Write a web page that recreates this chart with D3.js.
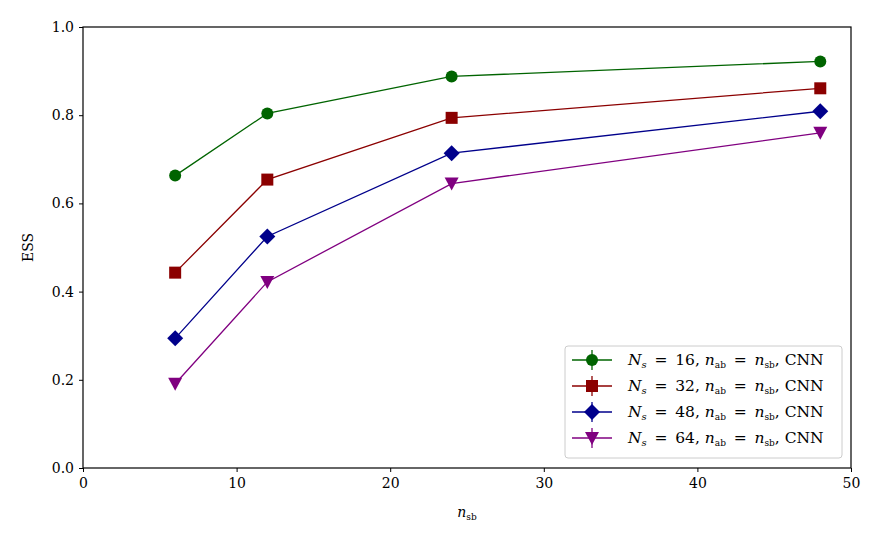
<!DOCTYPE html>
<html>
<head>
<meta charset="utf-8">
<script src="https://cdn.jsdelivr.net/npm/d3@7"></script>
<style>
  body { margin: 0; background: white; }
  text { font-family: "DejaVu Serif", "Liberation Serif", serif; }
</style>
</head>
<body>
<script>
const width = 882;
const height = 545;
const margin = {top: 27, right: 31, bottom: 77, left: 83};

// datos
const nsb = [6, 12, 24, 48];
const seriesNs = [16, 32, 48, 64];
const ess16 = [0.663, 0.804, 0.888, 0.922];
const ess32 = [0.443, 0.654, 0.794, 0.861];
const ess48 = [0.294, 0.525, 0.714, 0.809];
const ess64 = [0.191, 0.422, 0.645, 0.760];
const xTicks = [0, 10, 20, 30, 40, 50];
const yTicks = [0, 0.2, 0.4, 0.6, 0.8, 1.0];

const colors = ["#006400", "#8b0000", "#00008b", "#800080"];
const symbols = ["circle", "square", "diamond", "triangle"];

const series = seriesNs.map((ns, i) => ({
  ns,
  values: [ess16, ess32, ess48, ess64][i],
  color: colors[i],
  symbol: symbols[i]
}));

const svg = d3.select("body")
  .append("svg")
  .attr("width", width)
  .attr("height", height);

const x = d3.scaleLinear().domain([0, 50]).range([margin.left, width - margin.right]);
const y = d3.scaleLinear().domain([0, 1]).range([height - margin.bottom, margin.top]);

// ejes
const xAxis = svg.append("g")
  .attr("transform", `translate(0, ${height - margin.bottom})`)
  .call(d3.axisBottom(x).tickValues(xTicks).tickSize(4).tickPadding(6).tickFormat(d3.format("d")));

const yAxis = svg.append("g")
  .attr("transform", `translate(${margin.left}, 0)`)
  .call(d3.axisLeft(y).tickValues(yTicks).tickSize(4).tickPadding(5).tickFormat(d3.format(".1f")));

[xAxis, yAxis].forEach(a => {
  a.select(".domain").remove();
  a.selectAll("line").attr("stroke", "#000").attr("stroke-width", 1);
  a.selectAll("text").style("font-size", "14px").attr("fill", "#000");
});

// marco
svg.append("rect")
  .attr("x", margin.left)
  .attr("y", margin.top)
  .attr("width", width - margin.left - margin.right)
  .attr("height", height - margin.top - margin.bottom)
  .attr("fill", "none")
  .attr("stroke", "#000")
  .attr("stroke-width", 1.2);

// dibujar marcador
function marker(g, type, color, cx, cy) {
  if (type === "circle") {
    g.append("circle").attr("cx", cx).attr("cy", cy).attr("r", 6).attr("fill", color);
  } else if (type === "square") {
    g.append("rect").attr("x", cx - 6).attr("y", cy - 6).attr("width", 12).attr("height", 12).attr("fill", color);
  } else if (type === "diamond") {
    g.append("path").attr("d", `M${cx},${cy - 8}L${cx + 8},${cy}L${cx},${cy + 8}L${cx - 8},${cy}Z`).attr("fill", color);
  } else {
    g.append("path").attr("d", `M${cx - 7},${cy - 6}L${cx + 7},${cy - 6}L${cx},${cy + 7}Z`).attr("fill", color);
  }
}

const line = d3.line()
  .x((d, i) => x(nsb[i]))
  .y(d => y(d));

series.forEach(s => {
  const g = svg.append("g");
  g.append("path")
    .attr("d", line(s.values))
    .attr("fill", "none")
    .attr("stroke", s.color)
    .attr("stroke-width", 1.3);
  s.values.forEach((v, i) => marker(g, s.symbol, s.color, x(nsb[i]), y(v)));
});

// etiquetas de ejes
svg.append("text")
  .attr("transform", `translate(33, ${(margin.top + height - margin.bottom) / 2}) rotate(-90)`)
  .attr("text-anchor", "middle")
  .style("font-size", "14px")
  .text("ESS");

const xl = svg.append("text")
  .attr("x", (margin.left + width - margin.right) / 2)
  .attr("y", 517)
  .attr("text-anchor", "middle")
  .style("font-size", "14px");
xl.append("tspan").style("font-style", "italic").text("n");
xl.append("tspan").attr("dy", 3).style("font-size", "9px").text("sb");

// leyenda
const legend = svg.append("g").attr("transform", "translate(565, 346)");
legend.append("rect")
  .attr("width", 277)
  .attr("height", 112)
  .attr("rx", 3)
  .attr("fill", "white")
  .attr("fill-opacity", 0.8)
  .attr("stroke", "#ccc");

const eq = "\u2002=\u2002";
series.forEach((s, i) => {
  const ly = 14 + i * 26;
  const g = legend.append("g");
  g.append("line").attr("x1", 7).attr("x2", 47).attr("y1", ly).attr("y2", ly)
    .attr("stroke", s.color).attr("stroke-width", 1.3);
  g.append("line").attr("x1", 27).attr("x2", 27).attr("y1", ly - 10).attr("y2", ly + 10)
    .attr("stroke", s.color).attr("stroke-width", 1.3);
  marker(g, s.symbol, s.color, 27, ly);

  const t = g.append("text").attr("x", 63).attr("y", ly + 5).style("font-size", "15.5px");
  t.append("tspan").style("font-style", "italic").text("N");
  t.append("tspan").attr("dy", 3).style("font-size", "10px").style("font-style", "italic").text("s");
  t.append("tspan").attr("dy", -3).text(`${eq}${s.ns}, `);
  t.append("tspan").style("font-style", "italic").text("n");
  t.append("tspan").attr("dy", 3).style("font-size", "9px").text("ab");
  t.append("tspan").attr("dy", -3).text(eq);
  t.append("tspan").style("font-style", "italic").text("n");
  t.append("tspan").attr("dy", 3).style("font-size", "9px").text("sb");
  t.append("tspan").attr("dy", -3).text(", CNN");
});
</script>
</body>
</html>
